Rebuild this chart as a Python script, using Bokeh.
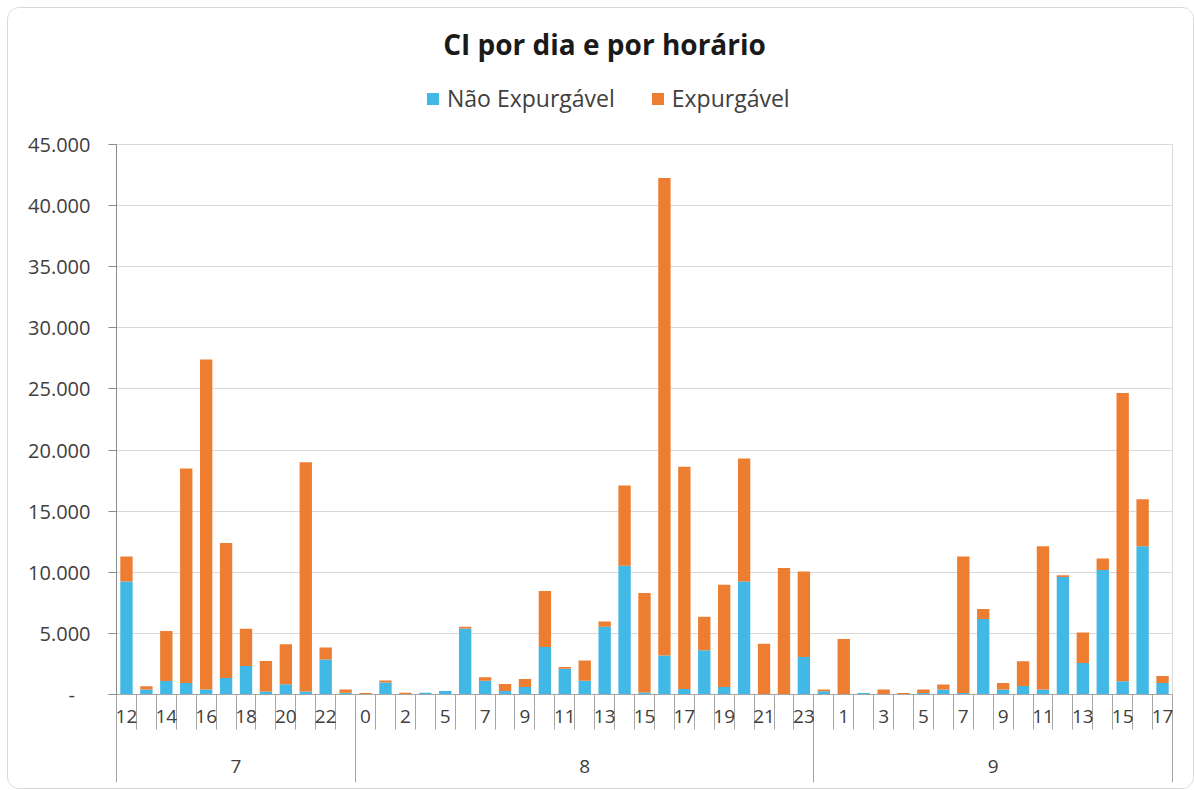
from bokeh.plotting import figure
from bokeh.layouts import column
from bokeh.models import (ColumnDataSource, Range1d, LinearAxis, FixedTicker, Label,
                          Legend, LegendItem)
from bokeh.embed import file_html
from bokeh.resources import INLINE

# ---- data ----
days = ["7", "8", "9"]
hours_7 = [12, 13, 14, 15, 16, 17, 18, 19, 20, 21, 22, 23]
hours_8 = [0, 1, 2, 3, 5, 6, 7, 8, 9, 10, 11, 12, 13, 14, 15, 16, 17, 18, 19, 20, 21, 22, 23]
hours_9 = [0, 1, 2, 3, 4, 5, 6, 7, 8, 9, 10, 11, 12, 13, 14, 15, 16, 17]

nao_7 = [9250, 400, 1110, 950, 410, 1360, 2340, 245, 840, 245, 2860, 150]
exp_7 = [2050, 280, 4090, 17540, 26990, 11040, 3030, 2500, 3275, 18755, 985, 250]

nao_8 = [20, 980, 20, 150, 280, 5400, 1120, 280, 605, 3880, 2100, 1120, 5540, 10530,
         165, 3190, 440, 3630, 605, 9245, 0, 0, 3060]
exp_8 = [110, 165, 130, 0, 0, 140, 300, 570, 655, 4580, 140, 1660, 430, 6570,
         8130, 39060, 18190, 2725, 8370, 10055, 4150, 10340, 7000]

nao_9 = [270, 0, 130, 30, 20, 130, 410, 130, 6185, 410, 705, 410, 9620, 2585, 10190, 1090, 12130, 950]
exp_9 = [140, 4550, 0, 380, 110, 280, 410, 11160, 815, 540, 2020, 11720, 140, 2485, 935, 23580, 3845, 570]

y_ticks = [0, 5000, 10000, 15000, 20000, 25000, 30000, 35000, 40000, 45000]
series_names = ["Não Expurgável", "Expurgável"]
title_text = "CI por dia e por horário"

BLUE = "#41B8E5"
ORANGE = "#ED7D31"
FONT = "Open Sans"
TXT = "#404040"
AXC = "#a6a6a6"

# ---- derived ----
hour_groups = [hours_7, hours_8, hours_9]
hours = hours_7 + hours_8 + hours_9
nao = nao_7 + nao_8 + nao_9
exp = exp_7 + exp_8 + exp_9
n = len(hours)
xs = list(range(n))

bounds = [-0.5]
for g in hour_groups:
    bounds.append(bounds[-1] + len(g))
centers = [(bounds[i] + bounds[i + 1]) / 2 for i in range(len(days))]
all_bounds = [i - 0.5 for i in range(n + 1)]
label_pos = [i for i in xs if i % 2 == 0]

src = ColumnDataSource(dict(x=xs, nao=nao, exp=exp))

W = 1185

# ---- header (title + legend) ----
hdr = figure(width=W, height=116, x_range=Range1d(-0.5, n - 0.5), y_range=Range1d(0, 45000),
             output_backend="svg", toolbar_location=None, x_axis_type=None, y_axis_type=None,
             min_border=0, min_border_left=0, min_border_right=0, min_border_top=0, min_border_bottom=0)
hdr.outline_line_color = None
hdr.background_fill_color = "white"
hdr.border_fill_color = "white"
hdr.add_layout(Label(x=488, y=81, x_units="screen", y_units="screen", text=title_text,
                     text_align="center", text_baseline="middle", text_font=FONT,
                     text_font_size="28px", text_font_style="bold", text_color="#1a1a1a"))
# legend swatches (hidden renderers carrying the series styles)
sw1 = hdr.vbar(x="x", top="nao", width=0.62, color=BLUE, line_color=None, source=src, visible=False)
sw2 = hdr.vbar(x="x", top="exp", width=0.62, color=ORANGE, line_color=None, source=src, visible=False)
lg = Legend(items=[LegendItem(label=series_names[0], renderers=[sw1]),
                   LegendItem(label=series_names[1], renderers=[sw2])],
            location=(309, 10), orientation="horizontal", border_line_color=None,
            background_fill_alpha=0, padding=0, margin=0, spacing=35, label_standoff=7,
            glyph_width=15, glyph_height=15, label_text_font=FONT,
            label_text_font_size="23px", label_text_color=TXT,
            inactive_fill_alpha=0)
hdr.add_layout(lg, "center")

# ---- main chart ----
p = figure(width=W, height=664,
           x_range=Range1d(-0.5, n - 0.5), y_range=Range1d(0, 45000),
           output_backend="svg", toolbar_location=None, x_axis_type=None,
           min_border_left=108, min_border_right=21, min_border_top=20, min_border_bottom=94)
p.background_fill_color = "white"
p.border_fill_color = "white"
p.outline_line_color = "#d9d9d9"

p.vbar_stack(["nao", "exp"], x="x", width=0.62, color=[BLUE, ORANGE], line_color=None,
             source=src)

# y axis
p.yaxis.ticker = FixedTicker(ticks=y_ticks)
ov = {}
for t in y_ticks:
    ov[t] = "-\u00a0\u00a0\u00a0" if t == 0 else f"{t:,}".replace(",", ".")
p.yaxis.major_label_overrides = ov
p.yaxis.major_tick_out = 8
p.yaxis.major_tick_in = 0
p.yaxis.minor_tick_line_color = None
p.yaxis.axis_line_color = "#8c8c8c"
p.yaxis.major_tick_line_color = "#8c8c8c"
p.yaxis.major_label_standoff = 18
p.yaxis.major_label_text_font = FONT
p.yaxis.major_label_text_font_size = "20px"
p.yaxis.major_label_text_color = TXT
p.ygrid.ticker = FixedTicker(ticks=y_ticks)
p.ygrid.grid_line_color = "#d9d9d9"

# hour axis
axA = LinearAxis(ticker=FixedTicker(ticks=label_pos, minor_ticks=all_bounds),
                 major_label_overrides={i: str(hours[i]) for i in label_pos},
                 major_tick_out=0, major_tick_in=0, major_tick_line_color=None,
                 minor_tick_out=35, minor_tick_in=0, minor_tick_line_color=AXC,
                 axis_line_color=AXC, major_label_standoff=-20,
                 major_label_text_font=FONT, major_label_text_font_size="19px",
                 major_label_text_color=TXT)
p.add_layout(axA, "below")

# day axis
axB = LinearAxis(ticker=FixedTicker(ticks=centers, minor_ticks=bounds),
                 major_label_overrides={c: d for c, d in zip(centers, days)},
                 major_tick_out=0, major_tick_in=0, major_tick_line_color=None,
                 minor_tick_out=57, minor_tick_in=0, minor_tick_line_color=AXC,
                 axis_line_color=None, major_label_standoff=-23,
                 major_label_text_font=FONT, major_label_text_font_size="19px",
                 major_label_text_color=TXT)
p.add_layout(axB, "below")

layout = column(hdr, p, spacing=0)
layout.styles = {"border": "1px solid #d9d9d9", "border-radius": "12px",
                 "overflow": "hidden", "margin": "7px 0 0 7px"}

open("out.html", "w").write(file_html(layout, INLINE))
